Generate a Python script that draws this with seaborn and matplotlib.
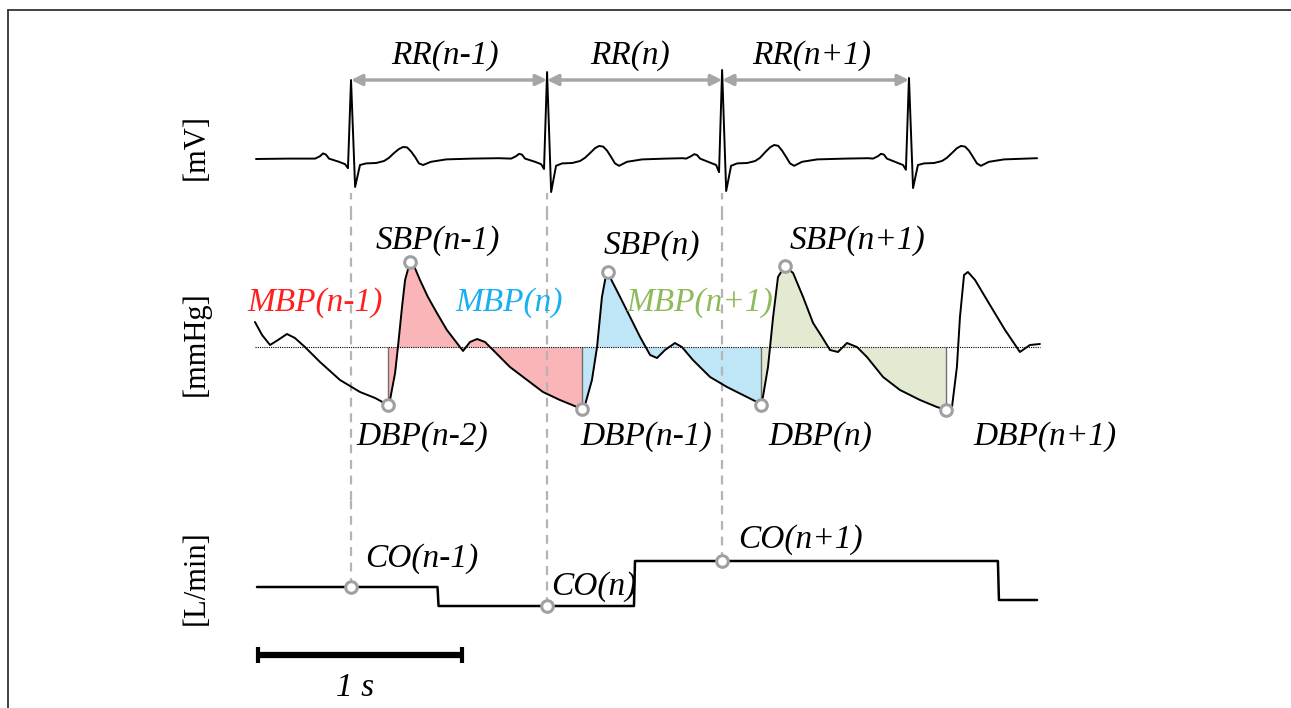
import numpy as np
import matplotlib
matplotlib.use('Agg')
import matplotlib.pyplot as plt
from matplotlib.lines import Line2D
import seaborn as sns

# ECG trace: time [s], amplitude [mV]
ecg_t = [-0.010, 0.150,
         0.280, 0.304, 0.319, 0.333, 0.348, 0.397, 0.427, 0.441, 0.456, 0.476,
         0.500, 0.530, 0.579, 0.618, 0.642, 0.667, 0.691, 0.711, 0.731, 0.750,
         0.770, 0.789, 0.809, 0.848, 0.922, 1.050, 1.180,
         1.241, 1.265, 1.280, 1.294, 1.309, 1.358, 1.388, 1.402, 1.417, 1.437,
         1.461, 1.491, 1.540, 1.579, 1.603, 1.628, 1.652, 1.672, 1.692, 1.711,
         1.731, 1.750, 1.770, 1.809, 1.883, 2.000, 2.080,
         2.099, 2.123, 2.138, 2.152, 2.167, 2.216, 2.246, 2.260, 2.275, 2.295,
         2.319, 2.349, 2.398, 2.437, 2.461, 2.486, 2.510, 2.530, 2.550, 2.569,
         2.589, 2.608, 2.628, 2.667, 2.741, 2.880, 2.990,
         3.015, 3.039, 3.054, 3.068, 3.083, 3.132, 3.162, 3.176, 3.191, 3.211,
         3.235, 3.265, 3.314, 3.353, 3.377, 3.402, 3.426, 3.446, 3.466, 3.485,
         3.505, 3.524, 3.544, 3.583, 3.657, 3.819]
ecg_mv = [-0.025, -0.020,
          -0.020, 0.010, 0.045, 0.030, -0.020, -0.060, -0.090, -0.140, 0.962, -0.375,
          -0.100, -0.080, -0.075, -0.050, -0.010, 0.050, 0.100, 0.125, 0.120, 0.070,
          0.000, -0.080, -0.100, -0.060, -0.030, -0.020, -0.015,
          -0.020, 0.010, 0.040, 0.030, -0.020, -0.060, -0.090, -0.150, 1.062, -0.438,
          -0.110, -0.080, -0.075, -0.050, -0.010, 0.050, 0.110, 0.138, 0.130, 0.080,
          0.000, -0.080, -0.110, -0.060, -0.030, -0.020, -0.015,
          -0.020, 0.010, 0.035, 0.025, -0.020, -0.070, -0.100, -0.190, 1.088, -0.425,
          -0.110, -0.080, -0.075, -0.050, -0.010, 0.060, 0.120, 0.150, 0.140, 0.080,
          0.000, -0.080, -0.110, -0.060, -0.030, -0.020, -0.015,
          -0.020, 0.010, 0.040, 0.030, -0.020, -0.070, -0.100, -0.160, 0.988, -0.388,
          -0.100, -0.080, -0.075, -0.050, -0.010, 0.050, 0.110, 0.138, 0.130, 0.080,
          0.000, -0.080, -0.110, -0.060, -0.030, -0.015]

# arterial pressure: time [s], pressure [mmHg]
bp_t = [-0.015, 0.020, 0.059, 0.098, 0.142, 0.181, 0.230, 0.304, 0.402, 0.500,
        0.574, 0.637, 0.647, 0.672, 0.686, 0.706, 0.721, 0.745, 0.765, 0.794,
        0.833, 0.877, 0.926, 0.975, 1.005, 1.039, 1.074, 1.113, 1.152, 1.235,
        1.319, 1.397, 1.480, 1.588, 1.603, 1.637, 1.662, 1.686, 1.706, 1.716,
        1.725, 1.775, 1.824, 1.873, 1.922, 1.956, 1.995, 2.044, 2.078, 2.132,
        2.216, 2.299, 2.377, 2.446, 2.466, 2.475, 2.500, 2.525, 2.549, 2.583,
        2.623, 2.672, 2.721, 2.765, 2.804, 2.843, 2.887, 2.936, 2.985, 3.064,
        3.147, 3.245, 3.328, 3.373, 3.402, 3.426, 3.441, 3.461, 3.480, 3.515,
        3.588, 3.662, 3.735, 3.784, 3.833]
bp_mmhg = [105.0, 99.8, 95.8, 97.8, 100.2, 98.6, 95.0, 89.0, 81.8, 77.0,
           74.6, 71.8, 73.8, 84.6, 95.0, 111.0, 121.8, 129.0, 127.4, 121.8,
           115.0, 108.6, 101.8, 96.6, 93.4, 97.0, 98.2, 97.0, 93.8, 87.0,
           81.8, 77.0, 73.8, 70.2, 71.8, 81.8, 95.0, 115.0, 123.8, 125.0,
           123.0, 115.0, 107.0, 99.0, 91.8, 90.6, 93.8, 96.6, 95.0, 89.8,
           83.0, 79.0, 75.8, 73.0, 71.8, 75.0, 87.0, 107.0, 123.0, 127.4,
           124.6, 115.0, 104.6, 99.0, 93.8, 93.0, 96.6, 95.0, 91.0, 83.0,
           77.8, 73.8, 71.0, 69.8, 71.0, 87.0, 107.0, 123.8, 125.0, 121.8,
           111.8, 101.8, 93.0, 95.8, 96.2]

# cardiac output: time [s], flow [L/min]
co_t = [-0.005, 0.880, 0.885, 1.843, 1.848, 3.627, 3.632, 3.819]
co_lpm = [5.00, 5.00, 4.62, 4.62, 5.52, 5.52, 4.74, 4.74]

r_peaks = [0.456, 1.417, 2.275, 3.191]
sbp_t = [0.745, 1.716, 2.583]
sbp_val = [129.0, 125.0, 127.4]
dbp_t = [0.637, 1.588, 2.466, 3.373]
dbp_val = [71.8, 70.2, 71.8, 69.8]
mbp_level = 95.0
co_at_r = [5.00, 4.62, 5.52]

rr_labels = ['RR(n-1)', 'RR(n)', 'RR(n+1)']
sbp_labels = ['SBP(n-1)', 'SBP(n)', 'SBP(n+1)']
mbp_labels = ['MBP(n-1)', 'MBP(n)', 'MBP(n+1)']
dbp_labels = ['DBP(n-2)', 'DBP(n-1)', 'DBP(n)', 'DBP(n+1)']
co_labels = ['CO(n-1)', 'CO(n)', 'CO(n+1)']
mbp_colors = ['#ff1f1f', '#19aff0', '#8dbb5a']
fill_colors = ['#f9b5b7', '#bfe6f7', '#e2ebd2']

sns.set_style('white')
plt.rcParams['font.family'] = ['Liberation Serif', 'DejaVu Serif']
plt.rcParams['text.color'] = 'black'

W, H = 1291, 708
fig = plt.figure(figsize=(W / 100, H / 100), dpi=100)
xlim = (-258 / 204, (W - 258) / 204)


def panel(top, bottom, ylim):
    ax = fig.add_axes([0, 1 - bottom / H, 1, (bottom - top) / H])
    ax.set_xlim(*xlim)
    ax.set_ylim(*ylim)
    ax.axis('off')
    ax.patch.set_alpha(0)
    return ax


ax_ecg = panel(30, 215, (-0.725, 1.5875))
ax_bp = panel(215, 500, (33.8, 147.8))
ax_co = panel(500, 700, (2.74, 6.74))

dash = dict(color='#b4b4b4', lw=1.6, linestyles=(0, (4, 3)), zorder=3)
marker = dict(s=70, facecolor='white', edgecolor='#a0a0a0', linewidth=2.2, zorder=6)
txt = dict(fontsize=24, style='italic', ha='center', va='center')

# ECG
sns.lineplot(x=ecg_t, y=ecg_mv, ax=ax_ecg, color='black', lw=1.4,
             estimator=None, sort=False)
ax_ecg.vlines(r_peaks[:3], -0.725, -0.45, **dash)
for i in range(3):
    ax_ecg.annotate('', xy=(r_peaks[i + 1], 0.9625), xytext=(r_peaks[i], 0.9625),
                    arrowprops=dict(arrowstyle='<|-|>', color='#a6a6a6', lw=2.5,
                                    mutation_scale=16, shrinkA=0, shrinkB=0))
    ax_ecg.text((r_peaks[i] + r_peaks[i + 1]) / 2 - 0.02, 1.27, rr_labels[i], **txt)

# blood pressure
bt = np.array(bp_t)
bp = np.array(bp_mmhg)
for k in range(3):
    m = (bt >= dbp_t[k]) & (bt <= dbp_t[k + 1])
    ax_bp.fill_between(bt[m], bp[m], mbp_level, color=fill_colors[k], lw=0, zorder=1)
ax_bp.vlines(dbp_t, dbp_val, mbp_level, color='#707070', lw=1.0, zorder=2)
ax_bp.plot([bp_t[0], bp_t[-1]], [mbp_level, mbp_level], color='black', lw=0.8,
           ls=(0, (1, 1)), zorder=2)
ax_bp.vlines(r_peaks[:3], 33.8, 147.8, **dash)
sns.lineplot(x=bp_t, y=bp_mmhg, ax=ax_bp, color='black', lw=1.4,
             estimator=None, sort=False, zorder=4)
sns.scatterplot(x=sbp_t, y=sbp_val, ax=ax_bp, **marker)
sns.scatterplot(x=dbp_t, y=dbp_val, ax=ax_bp, **marker)

for (x, y), s in zip([(0.882, 137.4), (1.931, 135.6), (2.941, 137.4)], sbp_labels):
    ax_bp.text(x, y, s, **txt)
for (x, y), s, c in zip([(0.279, 112.6), (1.230, 112.6), (2.167, 112.6)],
                        mbp_labels, mbp_colors):
    ax_bp.text(x, y, s, color=c, zorder=5, **txt)
for (x, y), s in zip([(0.804, 59.0), (1.904, 59.0), (2.755, 59.0), (3.858, 59.0)],
                     dbp_labels):
    ax_bp.text(x, y, s, **txt)

# cardiac output
ax_co.vlines(r_peaks[:3], co_at_r, 6.74, **dash)
sns.lineplot(x=co_t, y=co_lpm, ax=ax_co, color='black', lw=1.8,
             estimator=None, sort=False, zorder=4)
sns.scatterplot(x=r_peaks[:3], y=co_at_r, ax=ax_co, **marker)
for (x, y), s in zip([(0.804, 5.56), (1.647, 5.0), (2.657, 5.94)], co_labels):
    ax_co.text(x, y, s, **txt)

# 1 s scale bar
ax_co.plot([0, 1], [3.64, 3.64], color='black', lw=4.5, solid_capstyle='butt')
ax_co.vlines([0, 1], 3.48, 3.80, color='black', lw=3)
ax_co.text(0.475, 2.98, '1 s', **txt)

# unit labels
for py, s in [(147, '[mV]'), (344, '[mmHg]'), (578, '[L/min]')]:
    fig.text(196 / W, 1 - py / H, s, rotation=90, fontsize=22,
             ha='center', va='center')

# frame (top and left edges only)
fig.add_artist(Line2D([8 / W, 1], [1 - 10 / H] * 2, transform=fig.transFigure,
                      color='#333333', lw=1.3))
fig.add_artist(Line2D([8 / W] * 2, [0, 1 - 10 / H], transform=fig.transFigure,
                      color='#333333', lw=1.3))

fig.savefig('out.png', dpi=100)
